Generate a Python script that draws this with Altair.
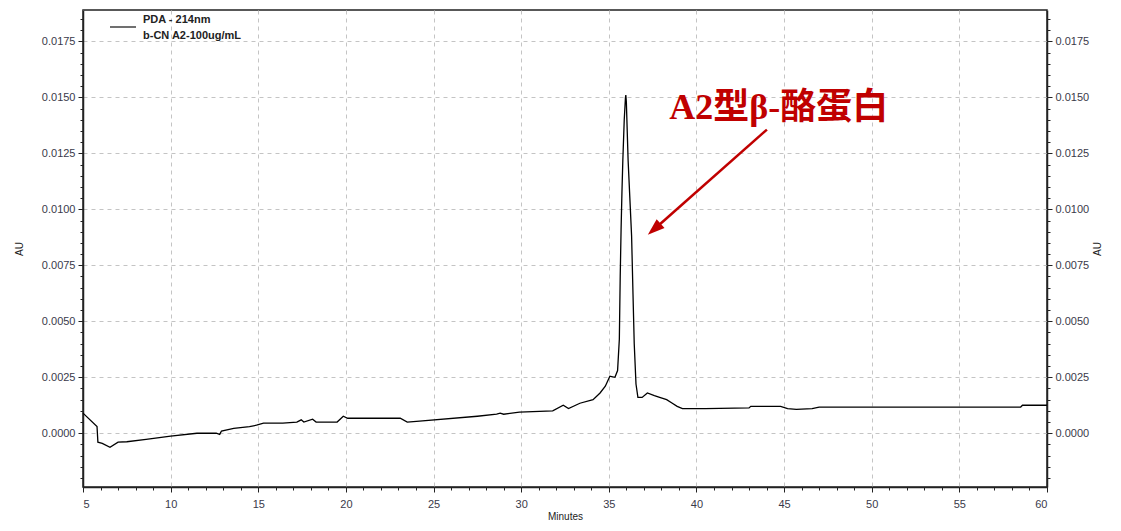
import altair as alt
import pandas as pd

# ---- chromatogram trace ----
minutes = [5.0, 5.8, 5.85, 6.1, 6.54, 7.0, 7.5, 8.6, 10.0, 11.5, 12.6, 12.8, 12.9,
           13.6, 14.5, 14.9, 15.3, 16.4, 17.2, 17.45, 17.6, 18.1, 18.3, 19.5, 19.85,
           20.1, 23.1, 23.5, 24.2, 27.5, 28.6, 28.8, 29.0, 29.9, 31.8, 32.4, 32.7,
           33.35, 34.1, 34.5, 34.8, 35.06, 35.35, 35.5, 35.6, 35.65, 35.7, 35.75,
           35.8, 35.88, 35.95, 35.97, 36.0, 36.05, 36.1, 36.2, 36.3, 36.38, 36.45,
           36.55, 36.66, 36.9, 37.2, 37.6, 37.9, 38.3, 38.6, 38.9, 39.2, 40.5,
           43.0, 43.1, 44.8, 45.2, 45.7, 46.6, 47.0, 58.5, 58.6, 60.0]
au = [0.0009, 0.0003, -0.0004, -0.00045, -0.00063, -0.0004, -0.00038, -0.00027,
      -0.00013, 0.0, 0.0, -0.00005, 0.0001, 0.00022, 0.0003, 0.00036, 0.00045,
      0.00045, 0.0005, 0.0006, 0.0005, 0.00063, 0.0005, 0.0005, 0.00076, 0.00067,
      0.00067, 0.0005, 0.00054, 0.00076, 0.00085, 0.0009, 0.00085, 0.00094, 0.001,
      0.00125, 0.0011, 0.00134, 0.0015, 0.0018, 0.0021, 0.00255, 0.0025, 0.0028,
      0.0042, 0.0070, 0.0091, 0.0108, 0.0122, 0.0140, 0.0150, 0.0151, 0.0148,
      0.0135, 0.0122, 0.0105, 0.0088, 0.0062, 0.0040, 0.0022, 0.0016, 0.0016,
      0.0018, 0.00168, 0.0016, 0.0015, 0.00135, 0.0012, 0.0011, 0.0011, 0.00113,
      0.0012, 0.0012, 0.0011, 0.00107, 0.0011, 0.00117, 0.00117, 0.00125, 0.00125]

# ---- ticks ----
x_major = [5, 10, 15, 20, 25, 30, 35, 40, 45, 50, 55, 60]
x_minor = [5, 6, 7, 8, 9, 10, 11, 12, 13, 14, 15, 16, 17, 18, 19, 20, 21, 22, 23,
           24, 25, 26, 27, 28, 29, 30, 31, 32, 33, 34, 35, 36, 37, 38, 39, 40, 41,
           42, 43, 44, 45, 46, 47, 48, 49, 50, 51, 52, 53, 54, 55, 56, 57, 58, 59, 60]
y_major = [0.0, 0.0025, 0.005, 0.0075, 0.01, 0.0125, 0.015, 0.0175]
y_minor = [-0.002, -0.0015, -0.001, -0.0005, 0.0, 0.0005, 0.001, 0.0015, 0.002,
           0.0025, 0.003, 0.0035, 0.004, 0.0045, 0.005, 0.0055, 0.006, 0.0065,
           0.007, 0.0075, 0.008, 0.0085, 0.009, 0.0095, 0.01, 0.0105, 0.011,
           0.0115, 0.012, 0.0125, 0.013, 0.0135, 0.014, 0.0145, 0.015, 0.0155,
           0.016, 0.0165, 0.017, 0.0175, 0.018, 0.0185]

# ---- legend & annotation ----
legend_lines = ["PDA - 214nm", "b-CN A2-100ug/mL"]
ann_text = ["A2型β-酪蛋白"]
ann_x = [44.7]
ann_y = [0.01452]
arrow_x1 = [44.02]
arrow_y1 = [0.01356]
arrow_x2 = [37.59]
arrow_y2 = [0.00911]

df = pd.DataFrame({"Minutes": minutes, "AU": au})
ann_df = pd.DataFrame({"x": ann_x, "y": ann_y, "t": ann_text,
                       "x1": arrow_x1, "y1": arrow_y1, "x2": arrow_x2, "y2": arrow_y2})
one = pd.DataFrame({"a": [0]})

FONT = "Liberation Sans"
LBL = "#3a3a4a"
xscale = alt.Scale(domain=[5, 60], nice=False, zero=False)
yscale = alt.Scale(domain=[-0.0024, 0.0189], nice=False, zero=False)

common_axis = dict(labelFont=FONT, labelFontSize=11, labelColor=LBL, titleFont=FONT,
                   titleFontSize=10, titleFontWeight="normal", titleColor="#222",
                   domainColor="#222", tickColor="#222", domainWidth=1.5)

line = alt.Chart(df).mark_line(color="black", strokeWidth=1.3).encode(
    x=alt.X("Minutes:Q", scale=xscale,
            axis=alt.Axis(values=x_major, title="Minutes", orient="bottom", grid=True,
                          gridDash=[4, 4], gridColor="#c4c4c4", tickSize=5,
                          labelPadding=6, titlePadding=2, format="d", **common_axis)),
    y=alt.Y("AU:Q", scale=yscale,
            axis=alt.Axis(values=y_major, title="AU", orient="left", grid=True,
                          gridDash=[4, 4], gridColor="#c4c4c4", tickSize=5,
                          labelPadding=3, titlePadding=17, format=".4f", **common_axis)),
)

right_axis = alt.Chart(df).mark_line(opacity=0).encode(
    x=alt.X("Minutes:Q", scale=xscale, axis=None),
    y=alt.Y("AU:Q", scale=yscale,
            axis=alt.Axis(values=y_major, title="AU", orient="right", grid=False,
                          tickSize=5, labelPadding=3, titlePadding=14, titleAngle=270,
                          format=".4f", **common_axis)),
)

minor_left = alt.Chart(df).mark_line(opacity=0).encode(
    x=alt.X("Minutes:Q", scale=xscale, axis=None),
    y=alt.Y("AU:Q", scale=yscale,
            axis=alt.Axis(values=y_minor, labels=False, title=None, orient="left",
                          grid=False, tickSize=3, domain=False, tickColor="#222")),
)
minor_right = alt.Chart(df).mark_line(opacity=0).encode(
    x=alt.X("Minutes:Q", scale=xscale, axis=None),
    y=alt.Y("AU:Q", scale=yscale,
            axis=alt.Axis(values=y_minor, labels=False, title=None, orient="right",
                          grid=False, tickSize=3, domain=False, tickColor="#222")),
)
minor_bottom = alt.Chart(df).mark_line(opacity=0).encode(
    x=alt.X("Minutes:Q", scale=xscale,
            axis=alt.Axis(values=x_minor, labels=False, title=None, orient="bottom",
                          grid=False, tickSize=3, domain=False, tickColor="#222")),
    y=alt.Y("AU:Q", scale=yscale, axis=None),
)

arrow_line = alt.Chart(ann_df).mark_rule(color="#c00000", strokeWidth=2.5).encode(
    x=alt.X("x1:Q", scale=xscale, axis=None), y=alt.Y("y1:Q", scale=yscale, axis=None),
    x2="x2:Q", y2="y2:Q")
arrow_head = alt.Chart(ann_df).mark_point(
    shape="M0,-1L0.7,1L-0.7,1Z", filled=True, color="#c00000", opacity=1,
    size=290, angle=228.6, strokeWidth=0).encode(
    x=alt.X("x2:Q", scale=xscale, axis=None), y=alt.Y("y2:Q", scale=yscale, axis=None))
ann_label = alt.Chart(ann_df).mark_text(
    font="Liberation Serif, Noto Sans CJK SC", fontSize=36, fontWeight="bold",
    color="#c00000", align="center", baseline="middle").encode(
    x=alt.X("x:Q", scale=xscale, axis=None), y=alt.Y("y:Q", scale=yscale, axis=None),
    text="t:N")

leg_rule = alt.Chart(one).mark_rule(color="#222", strokeWidth=1.3).encode(
    x=alt.value(27), x2=alt.value(53), y=alt.value(17))
leg_t1 = alt.Chart(one).mark_text(text=legend_lines[0], font=FONT, fontSize=11,
                                  fontWeight="bold", color="#222", align="left",
                                  baseline="middle").encode(x=alt.value(60), y=alt.value(10))
leg_t2 = alt.Chart(one).mark_text(text=legend_lines[1], font=FONT, fontSize=11,
                                  fontWeight="bold", color="#222", align="left",
                                  baseline="middle").encode(x=alt.value(60), y=alt.value(26))

chart = alt.layer(
    line, right_axis, minor_left, minor_right, minor_bottom,
    arrow_line, arrow_head, ann_label, leg_rule, leg_t1, leg_t2
).resolve_axis(x="independent", y="independent").properties(
    width=964, height=477,
    autosize=alt.AutoSizeParams(type="none"),
    padding={"left": 75, "top": 2, "right": 66, "bottom": 36},
    background="white",
).configure_view(stroke="#222", strokeWidth=1.5)

chart.save("out.html", embed_options={"renderer": "svg", "actions": False})
